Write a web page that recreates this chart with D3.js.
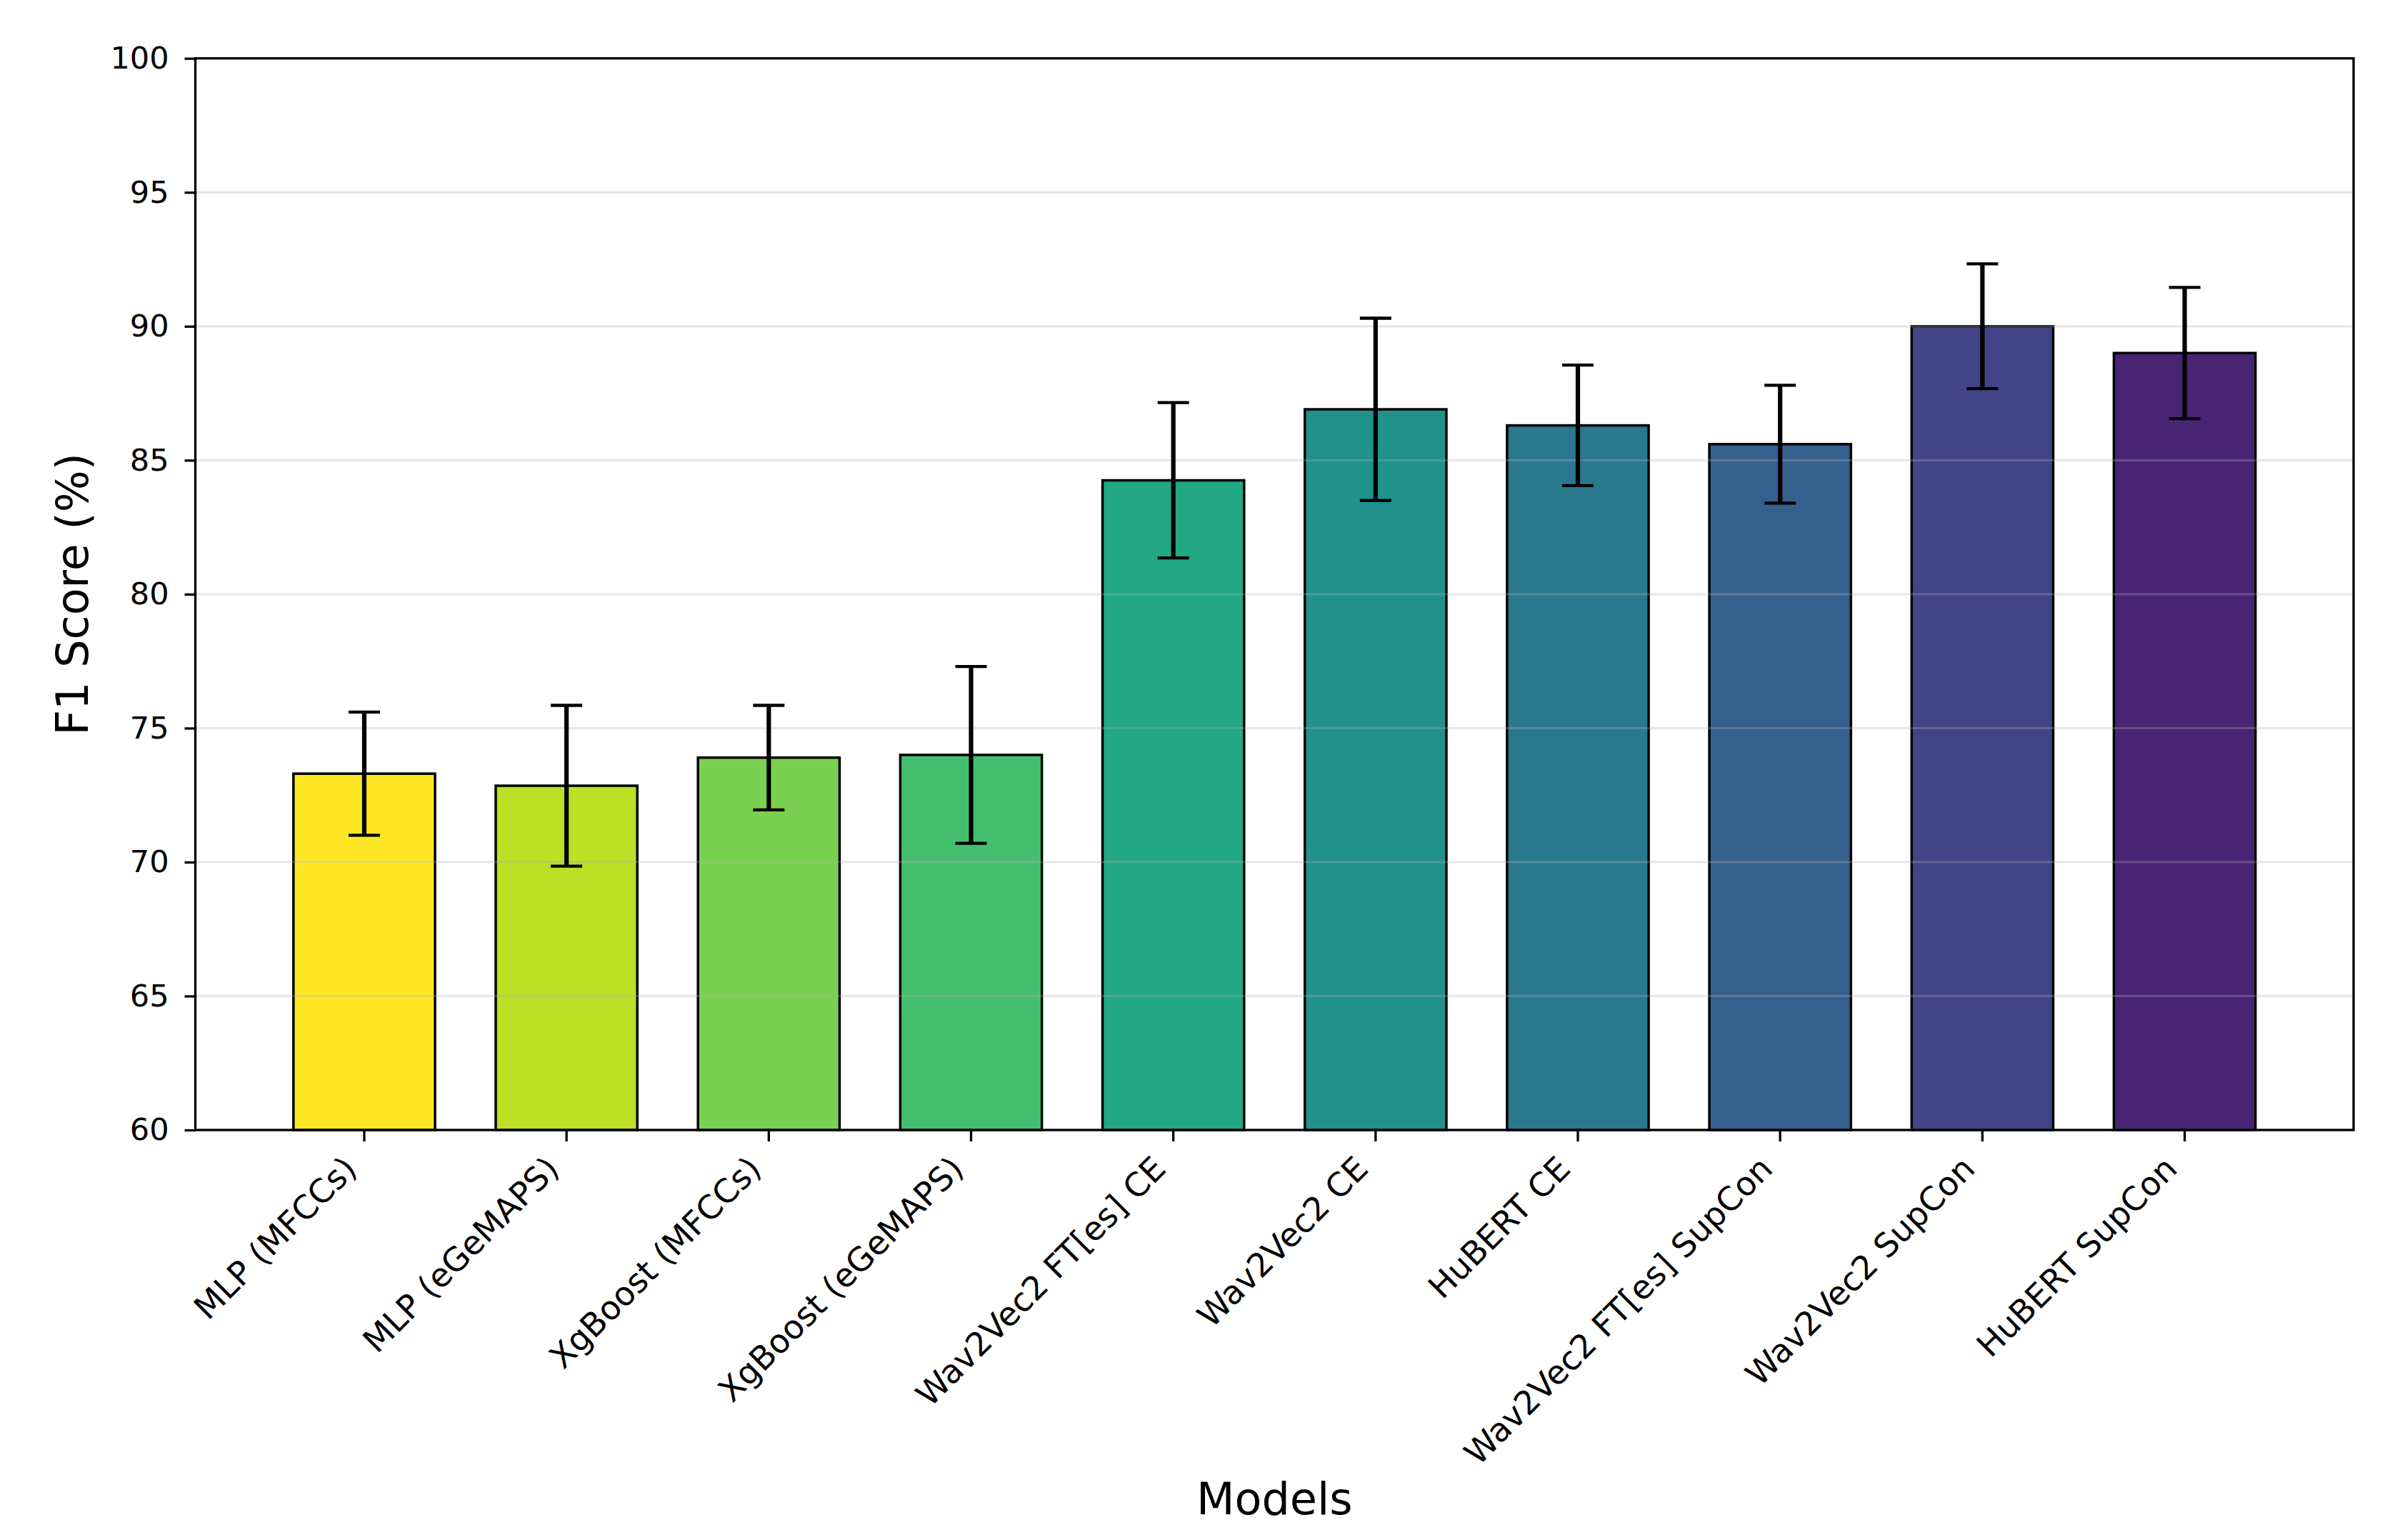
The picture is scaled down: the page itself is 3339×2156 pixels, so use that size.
<!DOCTYPE html>
<html>
<head>
<meta charset="utf-8">
<script src="https://cdn.jsdelivr.net/npm/d3@7"></script>
<style>
  body { margin: 0; background: #fff; }
  text { font-family: "DejaVu Sans", sans-serif; fill: #000; }
</style>
</head>
<body>
<div id="chart-area"></div>
<script>
// Data
var models = ["MLP (MFCCs)", "MLP (eGeMAPS)", "XgBoost (MFCCs)", "XgBoost (eGeMAPS)",
    "Wav2Vec2 FT[es] CE", "Wav2Vec2 CE", "HuBERT CE", "Wav2Vec2 FT[es] SupCon",
    "Wav2Vec2 SupCon", "HuBERT SupCon"];
var f1Mean = [73.3, 72.85, 73.9, 74.0, 84.25, 86.9, 86.3, 85.6, 90.0, 89.0];
var f1Err = [2.3, 3.0, 1.95, 3.3, 2.9, 3.4, 2.25, 2.2, 2.33, 2.45];
var yTicks = [60, 65, 70, 75, 80, 85, 90, 95, 100];

var W = 3339, H = 2156;
var margin = { left: 273.5, right: 44, top: 81.7, bottom: 574 };
var width = W - margin.left - margin.right,
    height = H - margin.top - margin.bottom;

var svg = d3.select("#chart-area")
    .append("svg")
        .attr("width", W)
        .attr("height", H);

var g = svg.append("g")
    .attr("transform", "translate(" + margin.left + "," + margin.top + ")");

// Scales
var x = d3.scaleBand()
    .domain(models)
    .range([0, width])
    .paddingInner(0.3)
    .paddingOuter(0.485);
var y = d3.scaleLinear()
    .domain([60, 100])
    .range([height, 0]);
// viridis, reversed, from 1.0 down to 0.1
var color = function(i) { return d3.interpolateViridis(1 - i * 0.1); };

// Bars
g.selectAll("rect.bar")
    .data(f1Mean)
    .enter()
    .append("rect")
        .attr("class", "bar")
        .attr("x", function(d, i) { return x(models[i]); })
        .attr("y", function(d) { return y(d); })
        .attr("width", x.bandwidth())
        .attr("height", function(d) { return height - y(d); })
        .attr("fill", function(d, i) { return color(i); })
        .attr("stroke", "#000")
        .attr("stroke-width", 3.5);

// Grid (drawn over the bars, like matplotlib)
g.selectAll("line.grid")
    .data(yTicks)
    .enter()
    .append("line")
        .attr("class", "grid")
        .attr("x1", 0)
        .attr("x2", width)
        .attr("y1", function(d) { return y(d); })
        .attr("y2", function(d) { return y(d); })
        .attr("stroke", "#b0b0b0")
        .attr("stroke-opacity", 0.3)
        .attr("stroke-width", 3.3);

// Error bars
var errG = g.selectAll("g.err")
    .data(f1Mean)
    .enter()
    .append("g")
        .attr("class", "err")
        .attr("transform", function(d, i) {
            return "translate(" + (x(models[i]) + x.bandwidth() / 2) + ",0)";
        });
errG.append("line")
    .attr("y1", function(d, i) { return y(d - f1Err[i]); })
    .attr("y2", function(d, i) { return y(d + f1Err[i]); })
    .attr("stroke", "#000")
    .attr("stroke-width", 6.2);
errG.append("line")
    .attr("x1", -22).attr("x2", 22)
    .attr("y1", function(d, i) { return y(d - f1Err[i]); })
    .attr("y2", function(d, i) { return y(d - f1Err[i]); })
    .attr("stroke", "#000")
    .attr("stroke-width", 4.3);
errG.append("line")
    .attr("x1", -22).attr("x2", 22)
    .attr("y1", function(d, i) { return y(d + f1Err[i]); })
    .attr("y2", function(d, i) { return y(d + f1Err[i]); })
    .attr("stroke", "#000")
    .attr("stroke-width", 4.3);

// Y Axis
var yAxisCall = d3.axisLeft(y)
    .tickValues(yTicks)
    .tickSize(15)
    .tickPadding(22);
var yAxis = g.append("g")
    .attr("class", "y-axis")
    .call(yAxisCall);
yAxis.select(".domain").remove();
yAxis.selectAll("line").attr("stroke-width", 3.3);
yAxis.selectAll("text")
    .attr("font-size", "43px")
    .attr("font-family", "DejaVu Sans");

// X Axis
var xAxisCall = d3.axisBottom(x)
    .tickSize(16);
var xAxis = g.append("g")
    .attr("class", "x-axis")
    .attr("transform", "translate(0," + height + ")")
    .call(xAxisCall);
xAxis.select(".domain").remove();
xAxis.selectAll("line").attr("stroke-width", 3.3);
var ex = -8, ey = 57;
xAxis.selectAll("text")
    .attr("font-size", "46px")
    .attr("font-family", "DejaVu Sans")
    .attr("text-anchor", "end")
    .attr("x", ex)
    .attr("y", ey)
    .attr("dy", null)
    .attr("transform", "rotate(-45," + ex + "," + ey + ")");

// Frame
g.append("rect")
    .attr("width", width)
    .attr("height", height)
    .attr("fill", "none")
    .attr("stroke", "#000")
    .attr("stroke-width", 3.3);

// Labels
svg.append("text")
    .attr("transform", "translate(123," + (margin.top + height / 2) + ") rotate(-90)")
    .attr("text-anchor", "middle")
    .attr("font-size", "62px")
    .text("F1 Score (%)");
svg.append("text")
    .attr("x", margin.left + width / 2)
    .attr("y", 2120)
    .attr("text-anchor", "middle")
    .attr("font-size", "62px")
    .text("Models");
</script>
</body>
</html>
